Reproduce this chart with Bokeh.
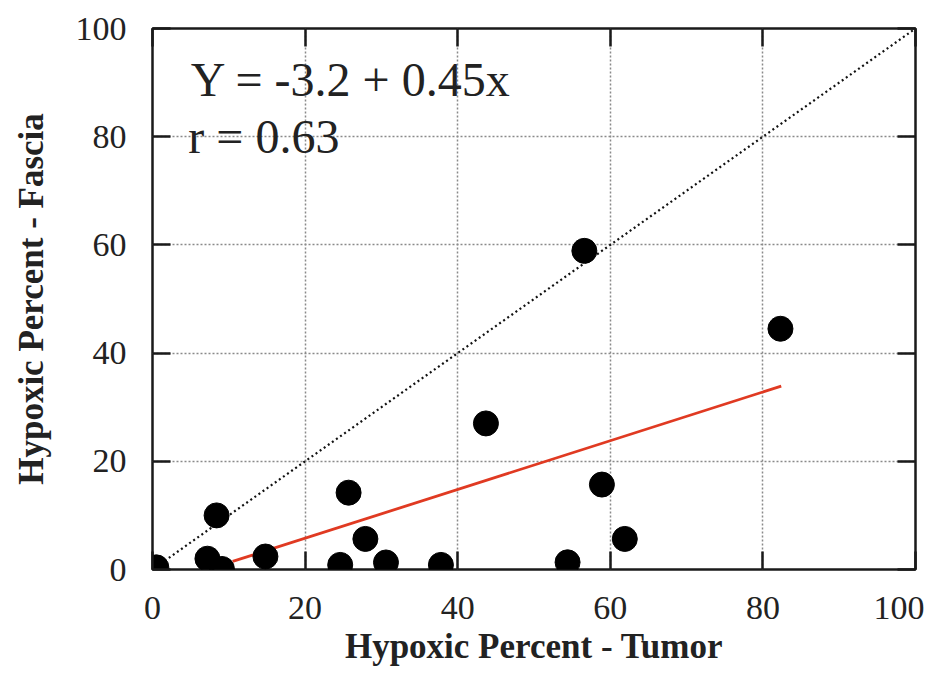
from bokeh.plotting import figure
from bokeh.models import Range1d, LinearAxis, FixedTicker, CustomJSTickFormatter
from bokeh.core.properties import value
from bokeh.embed import file_html
from bokeh.resources import INLINE

# data
tumor = [0.5, 7.2, 9.1, 8.4, 14.8, 24.6, 25.7, 27.9, 30.6, 37.8, 43.7, 56.6, 82.3, 58.9, 61.9, 54.4]
fascia = [0.4, 2.0, 0.1, 10.0, 2.4, 0.85, 14.2, 5.65, 1.3, 0.85, 27.0, 58.9, 44.5, 15.7, 5.65, 1.33]
fit_x = [10.5, 82.4]
fit_y = [1.5, 33.9]
identity_x = [0, 100]
identity_y = [0, 100]
ticks = [0, 20, 40, 60, 80, 100]
eq_text = ["Y = -3.2 + 0.45x"]
r_text = ["r = 0.63"]

FONT = "Liberation Serif"

p = figure(width=924, height=668, output_backend="svg", toolbar_location=None,
           x_range=Range1d(0, 100), y_range=Range1d(0, 100),
           min_border_left=152, min_border_right=9, min_border_top=28, min_border_bottom=99)
p.background_fill_color = "white"
p.border_fill_color = "white"
p.outline_line_color = "#1a1a1a"
p.outline_line_width = 2.5

for ax in (p.xaxis[0], p.yaxis[0]):
    ax.ticker = FixedTicker(ticks=ticks)
    ax.minor_tick_line_color = None
    ax.major_tick_in = 18
    ax.major_tick_out = 0
    ax.major_tick_line_width = 2.5
    ax.major_tick_line_color = "#1a1a1a"
    ax.axis_line_color = None
    ax.major_label_text_font = FONT
    ax.major_label_text_font_size = "34px"
    ax.major_label_text_color = "#222222"
    ax.axis_label_text_font = FONT
    ax.axis_label_text_font_style = "bold"
    ax.axis_label_text_font_size = "35px"
    ax.axis_label_text_color = "#222222"

p.xaxis[0].axis_label = "Hypoxic Percent - Tumor"
p.yaxis[0].axis_label = "Hypoxic Percent - Fascia"
p.xaxis[0].major_label_standoff = 27
p.yaxis[0].major_label_standoff = 26
p.xaxis[0].axis_label_standoff = 5
p.yaxis[0].axis_label_standoff = 22

for loc in ("above", "right"):
    ax = LinearAxis(ticker=FixedTicker(ticks=ticks),
                    formatter=CustomJSTickFormatter(code="return ''"))
    ax.minor_tick_line_color = None
    ax.major_tick_in = 18
    ax.major_tick_out = 0
    ax.major_tick_line_width = 2.5
    ax.major_tick_line_color = "#1a1a1a"
    ax.axis_line_color = None
    ax.major_label_standoff = 0
    p.add_layout(ax, loc)

for g in (p.xgrid[0], p.ygrid[0]):
    g.ticker = FixedTicker(ticks=[20, 40, 60, 80])
    g.grid_line_color = "#8a8a8a"
    g.grid_line_dash = "2 2"
    g.grid_line_width = 1.5

p.line(identity_x, identity_y, line_color="#111111", line_width=2.2, line_dash="2 3")
p.line(fit_x, fit_y, line_color="#e03a22", line_width=2.8)
p.scatter(tumor, fascia, size=25, fill_color="black", line_color="black")

p.text(x=[5], y=[90.5], text=eq_text, text_font=value(FONT), text_font_size="48px",
       text_color="#222222", text_baseline="alphabetic", text_align="left")
p.text(x=[4.7], y=[80.0], text=r_text, text_font=value(FONT), text_font_size="48px",
       text_color="#222222", text_baseline="alphabetic", text_align="left")

open("out.html", "w").write(file_html(p, INLINE))
